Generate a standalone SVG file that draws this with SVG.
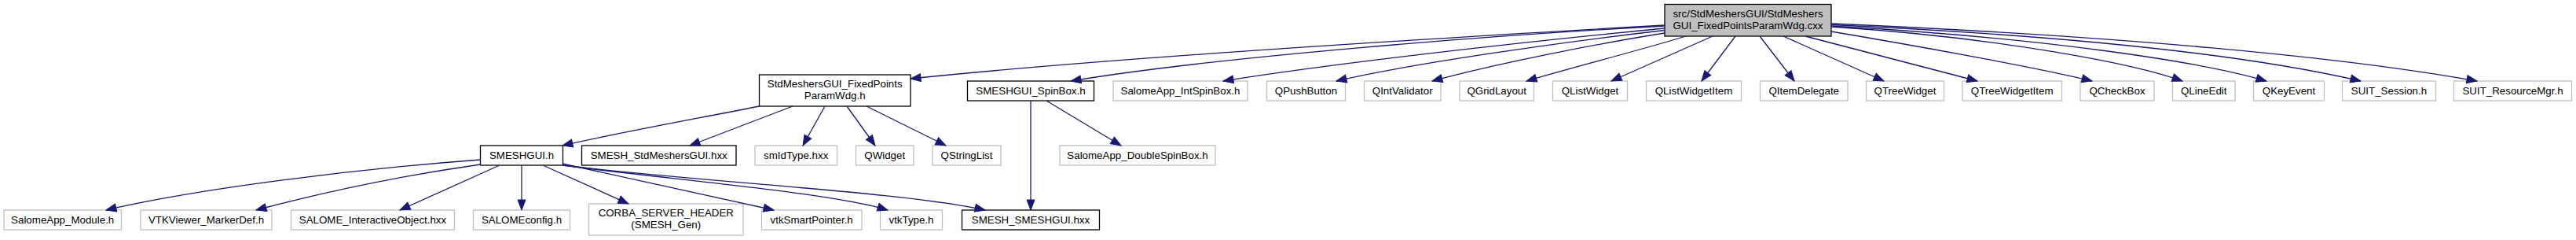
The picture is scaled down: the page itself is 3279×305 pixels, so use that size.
<svg xmlns="http://www.w3.org/2000/svg" width="3279" height="305" viewBox="0 0 3279 305">
<style>
.n rect{fill:#fff;stroke:#bfbfbf;stroke-width:1.3}
.b rect{fill:#fff;stroke:#000;stroke-width:1.3}
.r rect{fill:#bfbfbf;stroke:#000;stroke-width:1.3}
text{font-family:"Liberation Sans",Arial,sans-serif;font-size:13.33px;fill:#000;text-anchor:middle}
#edges path{fill:none;stroke:#191970;stroke-width:1.3;marker-end:url(#arr)}
</style>
<defs>
<marker id="arr" markerUnits="userSpaceOnUse" markerWidth="15" markerHeight="12" refX="13" refY="5" orient="auto" viewBox="-1 -1 15 12">
<path d="M0,0 L13,5 L0,10 z" fill="#191970" stroke="#191970" stroke-width="1"/>
</marker>
</defs>
<rect width="3279" height="305" fill="#fff"/>
<g id="nodes">
<g id="root" class="r"><rect x="2119" y="5.5" width="212" height="40.5"/><text x="2225" y="22">src/StdMeshersGUI/StdMeshers</text><text x="2225" y="37">GUI_FixedPointsParamWdg.cxx</text></g>
<g id="n_fixedpoints" class="b"><rect x="966.5" y="95" width="192.5" height="40"/><text x="1062.7" y="111">StdMeshersGUI_FixedPoints</text><text x="1062.7" y="126">ParamWdg.h</text></g>
<g id="n_spinbox" class="b"><rect x="1231.5" y="103" width="161" height="25"/><text x="1312" y="120">SMESHGUI_SpinBox.h</text></g>
<g id="n_intspinbox" class="n"><rect x="1417" y="103" width="171" height="25"/><text x="1502.5" y="120">SalomeApp_IntSpinBox.h</text></g>
<g id="n_qpushbutton" class="n"><rect x="1612.5" y="103" width="100" height="25"/><text x="1662.5" y="120">QPushButton</text></g>
<g id="n_qintvalidator" class="n"><rect x="1736.5" y="103" width="97.5" height="25"/><text x="1785.2" y="120">QIntValidator</text></g>
<g id="n_qgridlayout" class="n"><rect x="1858" y="103" width="94.5" height="25"/><text x="1905.2" y="120">QGridLayout</text></g>
<g id="n_qlistwidget" class="n"><rect x="1976.5" y="103" width="95" height="25"/><text x="2024" y="120">QListWidget</text></g>
<g id="n_qlistwidgetitem" class="n"><rect x="2095.5" y="103" width="121" height="25"/><text x="2156" y="120">QListWidgetItem</text></g>
<g id="n_qitemdelegate" class="n"><rect x="2240.5" y="103" width="111.5" height="25"/><text x="2296.2" y="120">QItemDelegate</text></g>
<g id="n_qtreewidget" class="n"><rect x="2375.5" y="103" width="99" height="25"/><text x="2425" y="120">QTreeWidget</text></g>
<g id="n_qtreewidgetitem" class="n"><rect x="2498" y="103" width="126.5" height="25"/><text x="2561.2" y="120">QTreeWidgetItem</text></g>
<g id="n_qcheckbox" class="n"><rect x="2648" y="103" width="94" height="25"/><text x="2695" y="120">QCheckBox</text></g>
<g id="n_qlineedit" class="n"><rect x="2765.5" y="103" width="79.5" height="25"/><text x="2805.2" y="120">QLineEdit</text></g>
<g id="n_qkeyevent" class="n"><rect x="2868.5" y="103" width="90" height="25"/><text x="2913.5" y="120">QKeyEvent</text></g>
<g id="n_suitsession" class="n"><rect x="2981.5" y="103" width="119" height="25"/><text x="3041" y="120">SUIT_Session.h</text></g>
<g id="n_suitresmgr" class="n"><rect x="3123.5" y="103" width="150" height="25"/><text x="3198.5" y="120">SUIT_ResourceMgr.h</text></g>
<g id="n_smeshgui" class="b"><rect x="611.5" y="185" width="105" height="25"/><text x="664" y="202">SMESHGUI.h</text></g>
<g id="n_smeshstdmeshersgui" class="b"><rect x="740.5" y="185" width="196.5" height="25"/><text x="838.7" y="202">SMESH_StdMeshersGUI.hxx</text></g>
<g id="n_smidtype" class="n"><rect x="961" y="185" width="104.5" height="25"/><text x="1013.2" y="202">smIdType.hxx</text></g>
<g id="n_qwidget" class="n"><rect x="1089.5" y="185" width="73.5" height="25"/><text x="1126.2" y="202">QWidget</text></g>
<g id="n_qstringlist" class="n"><rect x="1187" y="185" width="87" height="25"/><text x="1230.5" y="202">QStringList</text></g>
<g id="n_doublespinbox" class="n"><rect x="1349" y="185" width="198" height="25"/><text x="1448" y="202">SalomeApp_DoubleSpinBox.h</text></g>
<g id="n_salomeappmodule" class="n"><rect x="5" y="267" width="149.5" height="25"/><text x="79.7" y="284">SalomeApp_Module.h</text></g>
<g id="n_vtkmarkerdef" class="n"><rect x="179" y="267" width="167" height="25"/><text x="262.5" y="284">VTKViewer_MarkerDef.h</text></g>
<g id="n_salomeio" class="n"><rect x="370.5" y="267" width="208" height="25"/><text x="474.5" y="284">SALOME_InteractiveObject.hxx</text></g>
<g id="n_salomeconfig" class="n"><rect x="602.5" y="267" width="123" height="25"/><text x="664" y="284">SALOMEconfig.h</text></g>
<g id="n_corba" class="n"><rect x="749.5" y="259" width="196.5" height="40"/><text x="847.8" y="275">CORBA_SERVER_HEADER</text><text x="847.8" y="290">(SMESH_Gen)</text></g>
<g id="n_vtksmartpointer" class="n"><rect x="969.5" y="267" width="127.5" height="25"/><text x="1033.2" y="284">vtkSmartPointer.h</text></g>
<g id="n_vtktype" class="n"><rect x="1120.5" y="267" width="79" height="25"/><text x="1160" y="284">vtkType.h</text></g>
<g id="n_smeshsmeshgui" class="b"><rect x="1224.5" y="267" width="175" height="25"/><text x="1312" y="284">SMESH_SMESHGUI.hxx</text></g>
</g>
<g id="edges">
<path d="M2119,32 C1800,50 1400,75 1159,100"/>
<path d="M2119,33 C1900,45 1550,72 1363,103"/>
<path d="M2119,36 C1950,52 1700,80 1557,103"/>
<path d="M2119,38.5 C2000,52 1800,80 1701,103"/>
<path d="M2119,42 C2030,56 1900,82 1823,103"/>
<path d="M2146,46 C2080,66 2000,86 1943,103"/>
<path d="M2180,46 L2051,103"/>
<path d="M2209,46 L2166,103"/>
<path d="M2240,46 L2284,103"/>
<path d="M2270,46 L2398,103"/>
<path d="M2298,46 L2517,103"/>
<path d="M2331,40 C2420,55 2590,85 2663,103"/>
<path d="M2331,34 C2550,48 2720,82 2778,103"/>
<path d="M2331,33 C2600,48 2800,78 2885,103"/>
<path d="M2331,31.5 C2650,46 2870,72 3005,103"/>
<path d="M2331,30 C2700,46 2980,72 3153,103"/>
<path d="M966.5,135 C880,152 780,170 716,185"/>
<path d="M1009,135 L878,185"/>
<path d="M1050,135 L1022,185"/>
<path d="M1078,135 L1114,185"/>
<path d="M1103,135 L1204,185"/>
<path d="M1312,128 L1312,267"/>
<path d="M1332,128 L1427,185"/>
<path d="M611.5,203 C450,215 250,240 135,267"/>
<path d="M611.5,209 C520,222 420,242 326,267"/>
<path d="M636,210 L509,267"/>
<path d="M664,210 L664,267"/>
<path d="M691,210 L800,259"/>
<path d="M716,208 L985,267"/>
<path d="M716,210 C850,228 1060,245 1130,267"/>
<path d="M716,210 C900,232 1150,244 1254,267"/>
</g>
</svg>
